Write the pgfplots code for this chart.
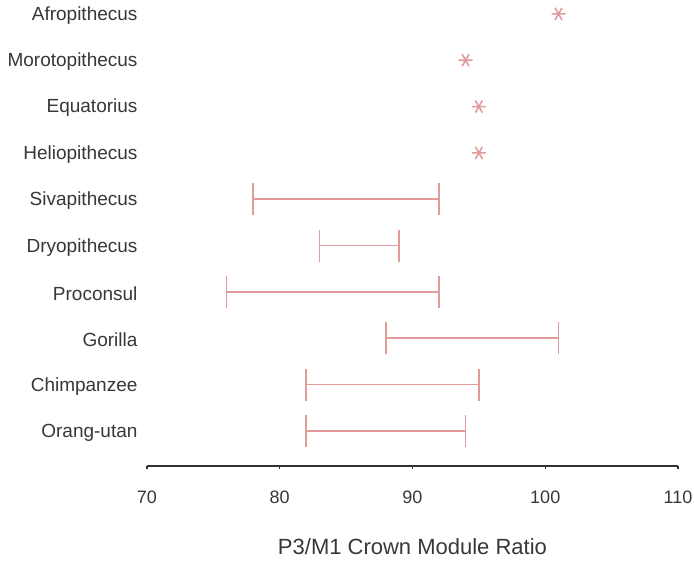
\documentclass[border=0pt]{standalone}
\usepackage{pgfplots}
\pgfplotsset{compat=1.18}
\usepackage{fontspec}
\setmainfont{Liberation Sans}
\definecolor{barc}{RGB}{226,155,155}
\definecolor{txt}{RGB}{55,55,55}
\begin{document}
\begin{tikzpicture}
\begin{axis}[
  scale only axis,
  width=531pt, height=466pt,
  xmin=70, xmax=110, ymin=0.244, ymax=10.3,
  axis x line=bottom, axis y line=left,
  x axis line style={-, line width=2.4pt, draw=black!80},
  y axis line style={draw=none},
  xtick={70,80,90,100,110},
  ytick={1,...,10},
  yticklabels={Orang-utan,Chimpanzee,Gorilla,Proconsul,Dryopithecus,Sivapithecus,Heliopithecus,Equatorius,Morotopithecus,Afropithecus},
  ytick style={draw=none},
  xtick style={draw=black!80, line width=1.5pt},
  tick align=outside, major tick length=3pt,
  yticklabel style={font=\fontsize{19}{23}\selectfont, text=txt, anchor=east, xshift=-3pt, yshift=-1.5pt},
  xticklabel style={font=\fontsize{18}{22}\selectfont, text=txt, yshift=-18pt},
  /pgf/number format/assume math mode=true,
  xlabel={P3/M1 Crown Module Ratio},
  xlabel style={font=\fontsize{22}{26}\selectfont, text=txt, yshift=-28pt},
  clip=false,
]
% ranges
\addplot[barc, line width=1.6pt, mark=|, mark size=16pt, mark options={line width=1.6pt}] coordinates {(78,6) (92,6)};
\addplot[barc, line width=1.6pt, mark=|, mark size=16pt, mark options={line width=1.6pt}] coordinates {(83,5) (89,5)};
\addplot[barc, line width=1.6pt, mark=|, mark size=16pt, mark options={line width=1.6pt}] coordinates {(76,4) (92,4)};
\addplot[barc, line width=1.6pt, mark=|, mark size=16pt, mark options={line width=1.6pt}] coordinates {(88,3) (101,3)};
\addplot[barc, line width=1.6pt, mark=|, mark size=16pt, mark options={line width=1.6pt}] coordinates {(82,2) (95,2)};
\addplot[barc, line width=1.6pt, mark=|, mark size=16pt, mark options={line width=1.6pt}] coordinates {(82,1) (94,1)};
% single values
\addplot[only marks, mark=asterisk, mark size=7pt, mark options={barc, line width=1.6pt, rotate=90}] coordinates {(101,10) (94,9) (95,8) (95,7)};
\end{axis}
\pgfresetboundingbox
\path[use as bounding box] (-147pt,-96pt) rectangle (547pt,466pt);
\end{tikzpicture}
\end{document}
